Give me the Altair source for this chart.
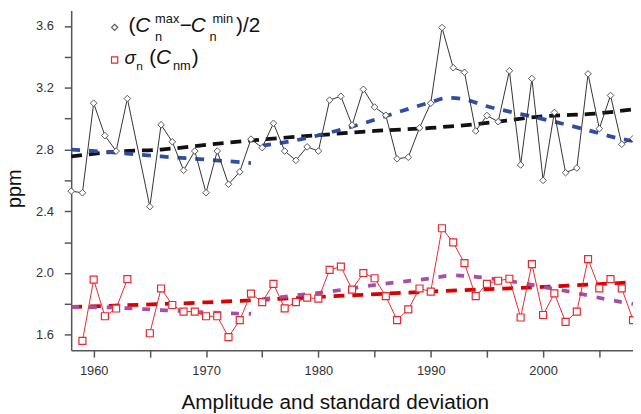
import altair as alt
import pandas as pd

# ---- data ----
amp_years = [1958, 1959, 1960, 1961, 1962, 1963, 1965, 1966, 1967, 1968, 1969, 1970,
             1971, 1972, 1973, 1974, 1975, 1976, 1977, 1978, 1979, 1980, 1981, 1982,
             1983, 1984, 1985, 1986, 1987, 1988, 1989, 1990, 1991, 1992, 1993, 1994,
             1995, 1996, 1997, 1998, 1999, 2000, 2001, 2002, 2003, 2004, 2005, 2006,
             2007, 2008]
amp_values = [2.53, 2.52, 3.10, 2.89, 2.79, 3.13, 2.43, 2.96, 2.85, 2.665, 2.79, 2.52,
              2.79, 2.575, 2.655, 2.867, 2.812, 2.97, 2.79, 2.73, 2.817, 2.79, 3.12, 3.145,
              2.958, 3.19, 3.075, 3.022, 2.74, 2.75, 2.94, 3.10, 3.59, 3.33, 3.30, 2.92,
              3.02, 2.98, 3.31, 2.70, 3.26, 2.60, 3.04, 2.65, 2.68, 3.29, 2.935, 3.15,
              2.834, 2.87]

sig_years = [1959, 1960, 1961, 1962, 1963,
             1965, 1966, 1967, 1968, 1969, 1970, 1971, 1972, 1973, 1974,
             1975, 1976, 1977, 1978, 1979, 1980, 1981, 1982, 1983, 1984,
             1985, 1986, 1987, 1988, 1989, 1990, 1991, 1992, 1993, 1994,
             1995, 1996, 1997, 1998, 1999, 2000, 2001, 2002, 2003, 2004,
             2005, 2006, 2007, 2008]
sig_values = [1.56, 1.957, 1.72, 1.77, 1.96,
              1.61, 1.90, 1.793, 1.75, 1.75, 1.72, 1.72, 1.585, 1.695, 1.867,
              1.812, 1.93, 1.771, 1.812, 1.84, 1.834, 2.02, 2.042, 1.893, 2.0,
              1.966, 1.85, 1.695, 1.765, 1.90, 1.88, 2.29, 2.198, 2.064, 1.85,
              1.93, 1.95, 1.963, 1.712, 2.058, 1.728, 1.868, 1.684, 1.75, 2.09,
              1.90, 1.961, 1.90, 1.695]
sig_segment = [0, 0, 0, 0, 0] + [1] * 44

# trend curves
amp_trend_years = [1958, 1962, 1966, 1970, 1975, 1980, 1985, 1990, 1994, 2000, 2005, 2008]
amp_trend_values = [2.755, 2.787, 2.80, 2.83, 2.865, 2.893, 2.92, 2.94, 2.964, 3.015, 3.035, 3.06]

amp_fit_years = [1958, 1962, 1966, 1970, 1974,
                 1975, 1978, 1981, 1984, 1987, 1990, 1991.5, 1993, 1995, 1998, 2001, 2004, 2007, 2008]
amp_fit_values = [2.80, 2.78, 2.755, 2.735, 2.712,
                  2.825, 2.86, 2.91, 2.97, 3.04, 3.106, 3.135, 3.125, 3.08, 3.03, 2.98, 2.925, 2.868, 2.855]
amp_fit_segment = [0] * 5 + [1] * 14

sig_trend_years = [1958, 1970, 1980, 1990, 2000, 2008]
sig_trend_values = [1.78, 1.81, 1.845, 1.88, 1.91, 1.94]

sig_fit_years = [1958, 1962, 1966, 1970, 1974,
                 1975, 1978, 1981, 1984, 1987, 1990, 1992, 1994, 1997, 2000, 2003, 2006, 2008]
sig_fit_values = [1.78, 1.775, 1.76, 1.745, 1.735,
                  1.83, 1.855, 1.88, 1.912, 1.94, 1.965, 1.985, 1.975, 1.948, 1.91, 1.87, 1.825, 1.80]
sig_fit_segment = [0] * 5 + [1] * 13

# ---- tables ----
amp_df = pd.DataFrame({"year": amp_years, "value": amp_values})
sig_df = pd.DataFrame({"year": sig_years, "value": sig_values, "seg": sig_segment})
amp_trend_df = pd.DataFrame({"year": amp_trend_years, "value": amp_trend_values})
amp_fit_df = pd.DataFrame({"year": amp_fit_years, "value": amp_fit_values, "seg": amp_fit_segment})
sig_trend_df = pd.DataFrame({"year": sig_trend_years, "value": sig_trend_values})
sig_fit_df = pd.DataFrame({"year": sig_fit_years, "value": sig_fit_values, "seg": sig_fit_segment})

FONT = "Liberation Sans"

x_scale = alt.Scale(domain=[1958, 2008], nice=False, zero=False)
y_scale = alt.Scale(domain=[1.5, 3.7], nice=False, zero=False)

x_axis = alt.Axis(
    values=list(range(1960, 2010, 5)),
    labelExpr="datum.value % 10 == 0 ? format(datum.value, 'd') : ''",
    title="Amplitude and standard deviation",
    titleFont=FONT, titleFontSize=21, titleFontWeight="normal", titleColor="#111",
    titleX=267, titleY=59, titleBaseline="alphabetic", titleAlign="center",
    labelFont=FONT, labelFontSize=13, labelColor="#333", labelPadding=8,
    tickSize=7, tickColor="#555", tickWidth=1.5,
    domainColor="#555", domainWidth=1.5, grid=False,
)
y_axis = alt.Axis(
    values=[1.6, 1.8, 2.0, 2.2, 2.4, 2.6, 2.8, 3.0, 3.2, 3.4, 3.6],
    labelExpr="round(datum.value * 10) % 4 == 0 ? format(datum.value, '.1f') : ''",
    title="ppm",
    titleFont=FONT, titleFontSize=20, titleFontWeight="normal", titleColor="#111",
    titleX=-51, titleY=180, titleBaseline="alphabetic", titleAlign="center", titleAngle=270,
    labelFont=FONT, labelFontSize=13, labelColor="#333", labelPadding=11,
    tickSize=7, tickColor="#555", tickWidth=1.5,
    domainColor="#555", domainWidth=1.5, grid=False,
)

X = alt.X("year:Q", scale=x_scale, axis=x_axis)
Y = alt.Y("value:Q", scale=y_scale, axis=y_axis)


def trend(df, color, dash, seg=False):
    enc = dict(x=X, y=Y)
    if seg:
        enc["detail"] = "seg:N"
    return alt.Chart(df).mark_line(
        color=color, strokeWidth=3.8, strokeDash=dash, interpolate="monotone", clip=True
    ).encode(**enc)


amp_line = alt.Chart(amp_df).mark_line(color="#333", strokeWidth=1).encode(x=X, y=Y)
amp_pts = alt.Chart(amp_df).mark_point(
    shape="diamond", size=45, fill="white", fillOpacity=1, stroke="#555", strokeWidth=1, opacity=1
).encode(x=X, y=Y)

sig_line = alt.Chart(sig_df).mark_line(color="#e8282e", strokeWidth=1).encode(x=X, y=Y, detail="seg:N")
sig_pts = alt.Chart(sig_df).mark_point(
    shape="square", size=50, fill="white", fillOpacity=1, stroke="#e8282e", strokeWidth=1.2, opacity=1, clip=True
).encode(x=X, y=Y)

one = pd.DataFrame({"k": [0]})


def txt(s, x, y, size=21, italic=False):
    return alt.Chart(one).mark_text(
        text=s, font=FONT, fontSize=size, fontStyle="italic" if italic else "normal",
        align="left", baseline="alphabetic", color="#111"
    ).encode(x=alt.value(x), y=alt.value(y))


def sym(shape, x, y, color):
    return alt.Chart(one).mark_point(
        shape=shape, size=40, fill="white", fillOpacity=1, stroke=color, strokeWidth=1.2, opacity=1
    ).encode(x=alt.value(x), y=alt.value(y))


ox, oy = 72, 8  # plot origin on the page
legend = [
    sym("diamond", 116 - ox, 25 - oy, "#555"),
    txt("(", 130 - ox, 30 - oy),
    txt("C", 137 - ox, 30 - oy, italic=True),
    txt("max", 157 - ox, 21 - oy, size=13),
    txt("n", 157 - ox, 39 - oy, size=13),
    txt("\u2212", 182 - ox, 30 - oy),
    txt("C", 193 - ox, 30 - oy, italic=True),
    txt("min", 215 - ox, 21 - oy, size=13),
    txt("n", 212 - ox, 39 - oy, size=13),
    txt(")/2", 239 - ox, 30 - oy),
    sym("square", 116 - ox, 58 - oy, "#e8282e"),
    txt("\u03c3", 126 - ox, 62.5 - oy, size=19, italic=True),
    txt("n", 138 - ox, 68 - oy, size=12),
    txt("(", 151 - ox, 62.5 - oy),
    txt("C", 158 - ox, 62.5 - oy, italic=True),
    txt("nm", 175 - ox, 68 - oy, size=13),
    txt(")", 194 - ox, 62.5 - oy),
]

chart = alt.layer(
    trend(amp_trend_df, "#111111", [11, 7]),
    trend(amp_fit_df, "#2d4fa3", [9, 9], seg=True),
    trend(sig_trend_df, "#d80000", [11, 8]),
    trend(sig_fit_df, "#a64fa6", [8, 10], seg=True),
    amp_line, sig_line, amp_pts, sig_pts,
    *legend,
).properties(
    width=569, height=344,
    padding={"left": 64, "top": 0, "right": 0, "bottom": 62},
    autosize=alt.AutoSizeParams(type="none"),
).configure_view(stroke=None)

chart.save("out.html", embed_options={"renderer": "svg", "actions": False})
